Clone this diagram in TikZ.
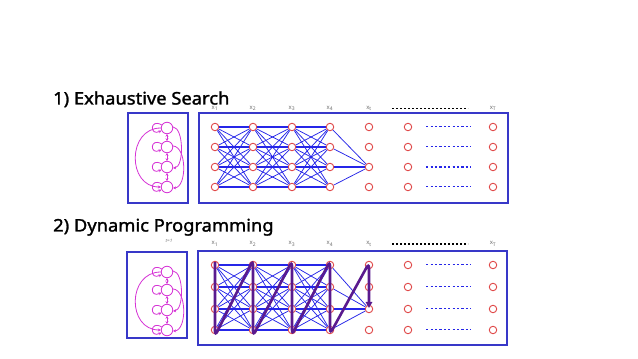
\documentclass[tikz,border=0pt]{standalone}
\usepackage{fontspec}
\newfontfamily\tfont{Noto Sans}
\newfontfamily\hfont{Noto Sans}[FakeBold=1.6,FakeStretch=1.06]
\usetikzlibrary{calc,arrows.meta}
\definecolor{bx}{HTML}{3838C8}
\definecolor{ln}{HTML}{2626E8}
\definecolor{rd}{HTML}{E04848}
\definecolor{mg}{HTML}{D633D6}
\definecolor{pp}{HTML}{5A1A8E}
\definecolor{lb}{HTML}{707070}
\begin{document}
\begin{tikzpicture}[x=1pt,y=1pt,
  st/.style={circle,draw=rd,line width=0.9pt,minimum size=7.5pt,inner sep=0pt},
  hs/.style={circle,draw=mg,line width=0.8pt,minimum size=11.5pt,inner sep=0pt},
  boxb/.style={draw=bx,line width=1.3pt},
  net/.style={draw=ln,line width=0.75pt},
  rowl/.style={draw=ln,line width=1.1pt},
  dotl/.style={draw=ln,line width=1pt,dash pattern=on 2.2pt off 2.2pt,shorten <=14pt,shorten >=18pt},
  mgl/.style={draw=mg,line width=0.8pt,-{Stealth[length=3pt,width=3pt]}},
  lab/.style={text=lb,font=\tfont\fontsize{6}{7}\selectfont,inner sep=0pt},
  ttl/.style={anchor=base west,font=\hfont\fontsize{17.3}{19}\selectfont,inner sep=0pt},
  pth/.style={draw=pp,line width=2.6pt,rounded corners=5pt,-{Triangle[length=6pt,width=6.5pt]}}]
\fill[white] (0,0) rectangle (638,359);
\useasboundingbox (0,0) rectangle (638,359);
% titles
\node[ttl] (h1) at (53,254.5) {1) Exhaustive Search};
\node[ttl] (h2) at (53,127.5) {2) Dynamic Programming};
\node[lab,font=\tfont\fontsize{4.5}{5}\selectfont] (tl) at (169,118) {\itshape t=1};
% boxes
\draw[boxb] (128,246) rectangle (188,156);
\draw[boxb] (199,246) rectangle (508,156);
\draw[boxb] (127,107) rectangle (187,21);
\draw[boxb] (198,108) rectangle (507,14);
% trellis nodes and labels
\foreach \c/\x in {1/215,2/253,3/292,4/330,5/369,6/408,7/493}{
  \foreach \r/\ya/\yb in {1/232/94,2/212/72,3/192/50,4/172/29}{
    \node[st] (t\c\r) at (\x,\ya) {};
    \node[st] (b\c\r) at (\x,\yb) {};
  }
}
\foreach \c/\x/\s in {1/215/1,2/253/2,3/292/3,4/330/4,5/369/t,7/493/T}{
  \node[lab] (lt\c) at (\x,250.5) {x\textsubscript{\s}};
  \node[lab] (lb\c) at (\x,115) {x\textsubscript{\s}};
}
% full connections
\foreach \p in {t,b}{
  \foreach \c/\d in {1/2,2/3,3/4}{
    \foreach \r in {1,2,3,4}{
      \foreach \q in {1,2,3,4}{
        \draw[net] (\p\c\r) -- (\p\d\q);
      }
    }
  }
  \foreach \r in {1,2,4}{\draw[net] (\p4\r) -- (\p53);}
  \foreach \r in {1,2,4}{\draw[rowl] (\p1\r) -- (\p2\r) -- (\p3\r) -- (\p4\r);}
  \draw[rowl,line width=1.4pt] (\p13) -- (\p23) -- (\p33) -- (\p43) -- (\p53);
  \foreach \r in {1,2,3,4}{\draw[dotl] (\p6\r) -- (\p7\r);}
}
\draw[dotl,line width=1.4pt] (t63) -- (t73);
% black dashed
\coordinate (dA) at (392,251); \coordinate (dB) at (468,251);
\coordinate (dC) at (392,115); \coordinate (dD) at (468,115);
\draw[black,line width=0.6pt,dash pattern=on 2pt off 2pt] (dA) -- (dB);
\draw[black,line width=1.1pt,dash pattern=on 2pt off 2pt] (dC) -- (dD);
% DP path
\draw[pth] ($(b11)+(0,3)$) -- ($(b14)+(0,-6)$) -- ($(b21)+(0,5)$) -- ($(b24)+(0,-6)$)
  -- ($(b31)+(0,4)$) -- ($(b34)+(0,-5)$) -- ($(b41)+(0,4)$) -- ($(b44)+(0,-4)$)
  -- ($(b51)+(0,2)$) -- ($(b53)+(0,1)$);
% left state graphs
\foreach \p/\ya/\yb/\yc/\yd in {L/231/212/192/172,M/87/69/49/29}{
  \node[hs] (\p1) at (167,\ya) {};
  \node[hs] (\p2) at (167,\yb) {};
  \node[hs] (\p3) at (167,\yc) {};
  \node[hs] (\p4) at (167,\yd) {};
  \foreach \k in {1,2,3,4}{
    \draw[mgl] (\p\k.150) .. controls +(-12,7) and +(-12,-6) .. (\p\k.205);
  }
  \draw[mgl] (\p1.west) .. controls (127,\ya) and (127,\yd) .. (\p4.west);
  \draw[mgl] (\p1.10) .. controls (184,\ya) and (184,\yc) .. (\p3.350);
  \draw[mgl] (\p2.10) .. controls (187,\yb) and (187,\yd) .. (\p4.350);
  \draw[mgl,{Stealth[length=2.5pt,width=3pt]}-{Stealth[length=2.5pt,width=3pt]}] (\p1.south) -- (\p2.north);
  \draw[mgl,{Stealth[length=2.5pt,width=3pt]}-{Stealth[length=2.5pt,width=3pt]}] (\p2.south) -- (\p3.north);
  \draw[mgl,{Stealth[length=2.5pt,width=3pt]}-{Stealth[length=2.5pt,width=3pt]}] (\p3.south) -- (\p4.north);
}
\end{tikzpicture}
\end{document}
